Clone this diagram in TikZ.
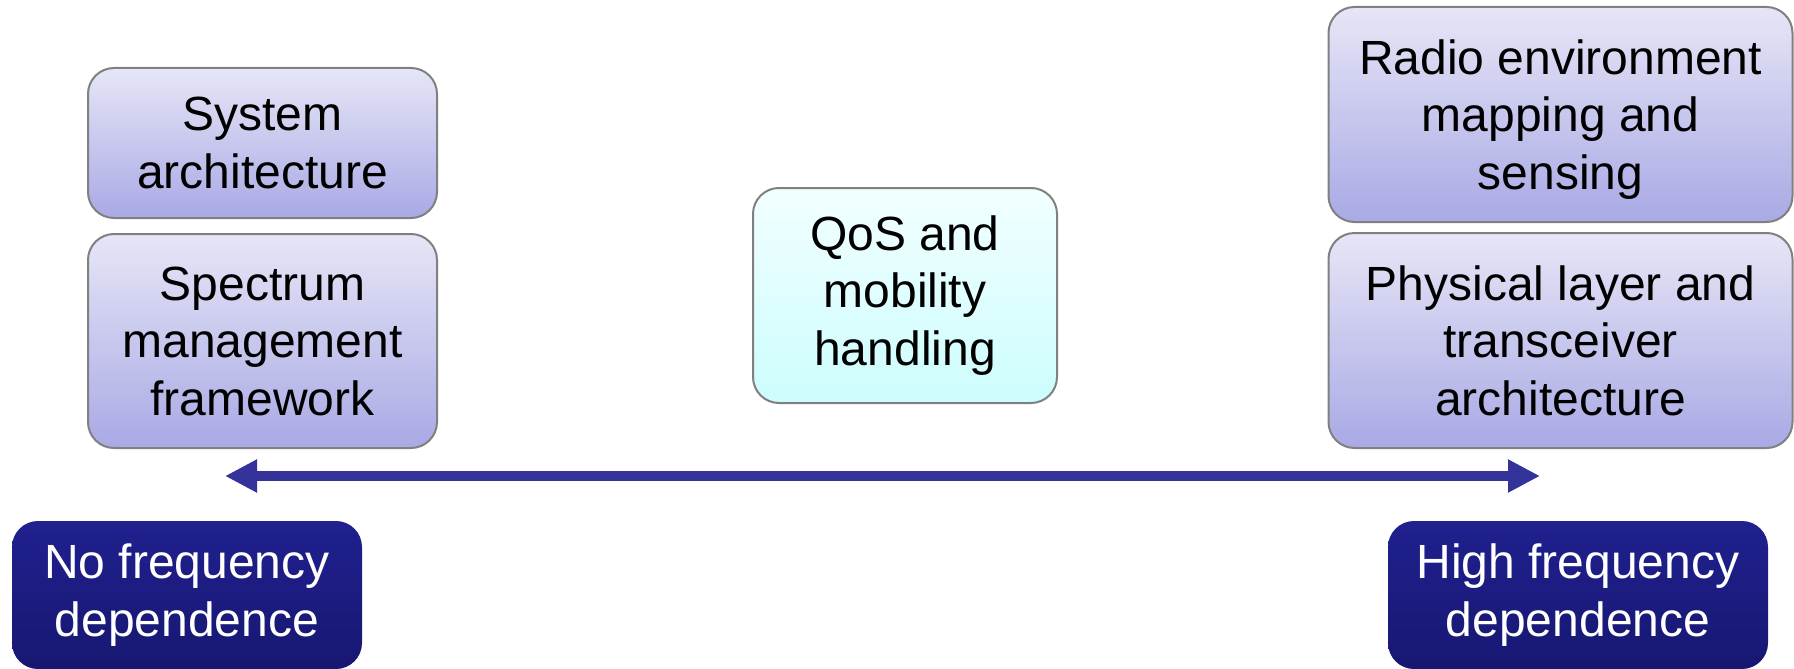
\documentclass[tikz,border=0pt]{standalone}
\usepackage{fontspec}
\setmainfont{Liberation Sans}
\usetikzlibrary{arrows.meta,shadings}
\definecolor{lvtop}{HTML}{E6E6F7}
\definecolor{lvbot}{HTML}{A9A9E5}
\definecolor{cytop}{HTML}{F2FFFF}
\definecolor{cybot}{HTML}{CCFDFD}
\definecolor{dktop}{HTML}{20208F}
\definecolor{dkbot}{HTML}{171772}
\definecolor{boxline}{HTML}{808080}
\definecolor{arrowblue}{HTML}{333399}
\begin{document}
\begin{tikzpicture}[x=1pt,y=-1pt,
  box/.style={rounded corners=26pt, align=center, inner sep=0pt,
    font=\fontsize{48}{57.5}\selectfont},
  lav/.style={box, draw=boxline, line width=2pt, top color=lvtop, bottom color=lvbot, text=black},
  cyan box/.style={box, draw=boxline, line width=2pt, top color=cytop, bottom color=cybot, text=black},
  dark/.style={box, top color=dktop, bottom color=dkbot, text=white},
  arr/.style={draw=arrowblue, line width=10pt,
    {Triangle[length=32pt,width=31pt]}-{Triangle[length=32pt,width=31pt]}}
]
\useasboundingbox (0,0) rectangle (1794,669);

\node[lav, minimum width=349pt, minimum height=150pt] (sys) at (262.5,143) {System\\architecture};
\node[lav, minimum width=349pt, minimum height=214pt] (spec) at (262.5,341) {Spectrum\\management\\framework};
\node[cyan box, minimum width=304pt, minimum height=215pt] (qos) at (905,295.5) {QoS and\\mobility\\handling};
\node[lav, minimum width=464pt, minimum height=215pt, text depth=0pt] (radio) at (1560.5,114.5) {Radio environment\\mapping and\\sensing};
\node[lav, minimum width=464pt, minimum height=215pt] (phys) at (1560.5,340.5) {Physical layer and\\transceiver\\architecture};
\node[dark, minimum width=350pt, minimum height=148pt] (nofreq) at (187,595) {No frequency\\dependence};
\node[dark, minimum width=380pt, minimum height=148pt] (hifreq) at (1578,595) {High frequency\\dependence};

\coordinate (l) at (225,476);
\coordinate (r) at (1540,476);
\draw[arr] (l) -- (r);
\end{tikzpicture}
\end{document}
